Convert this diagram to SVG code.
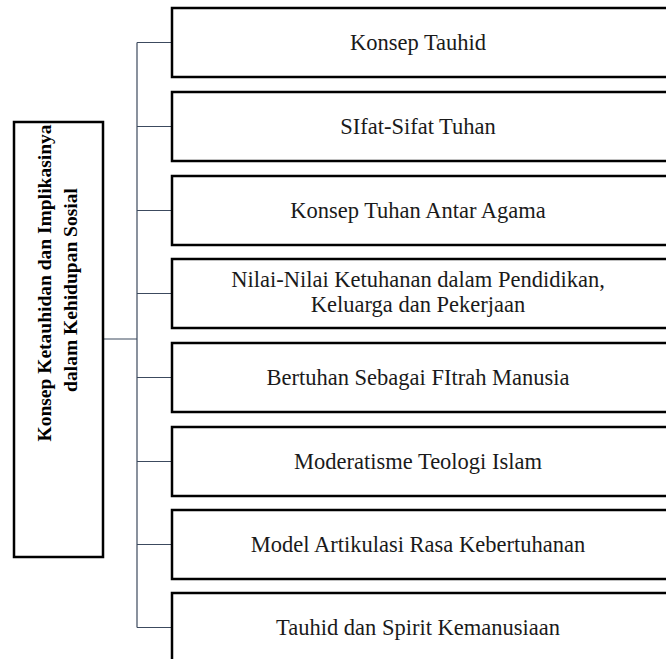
<svg xmlns="http://www.w3.org/2000/svg" width="666" height="659" viewBox="0 0 666 659">
<style>
.box{fill:#fff;stroke:#000;stroke-width:2.5}
.t{font-family:"Liberation Serif",serif;font-size:22.5px;fill:#1a1a1a;text-anchor:middle}
.tb{font-family:"Liberation Serif",serif;font-size:19.5px;font-weight:bold;fill:#000;text-anchor:middle}
.c{fill:none;stroke:#3c4a5e;stroke-width:1.2}
</style>
<rect width="666" height="659" fill="#fff"/>
<g id="connectors">
<path class="c" d="M103 339H137M137 42.5V627.5"/>
<path class="c" d="M137 42.5H172M137 126.5H172M137 210.5H172M137 293.5H172M137 377.5H172M137 461.5H172M137 544.5H172M137 627.5H172"/>
</g>
<g id="root">
<rect class="box" x="14" y="122" width="89" height="435"/>
<text class="tb" transform="translate(51,283) rotate(-90)">Konsep Ketauhidan dan Implikasinya</text>
<text class="tb" transform="translate(77,290) rotate(-90)">dalam Kehidupan Sosial</text>
</g>
<g id="n1"><rect class="box" x="172" y="8" width="500" height="69"/><text class="t" x="418" y="50">Konsep Tauhid</text></g>
<g id="n2"><rect class="box" x="172" y="92" width="500" height="69"/><text class="t" x="418" y="134">SIfat-Sifat Tuhan</text></g>
<g id="n3"><rect class="box" x="172" y="176" width="500" height="69"/><text class="t" x="418" y="218">Konsep Tuhan Antar Agama</text></g>
<g id="n4"><rect class="box" x="172" y="259" width="500" height="69"/><text class="t" x="418" y="287">Nilai-Nilai Ketuhanan dalam Pendidikan,</text><text class="t" x="418" y="312">Keluarga dan Pekerjaan</text></g>
<g id="n5"><rect class="box" x="172" y="343" width="500" height="69"/><text class="t" x="418" y="385">Bertuhan Sebagai FItrah Manusia</text></g>
<g id="n6"><rect class="box" x="172" y="427" width="500" height="69"/><text class="t" x="418" y="469">Moderatisme Teologi Islam</text></g>
<g id="n7"><rect class="box" x="172" y="510" width="500" height="69"/><text class="t" x="418" y="552">Model Artikulasi Rasa Kebertuhanan</text></g>
<g id="n8"><rect class="box" x="172" y="593" width="500" height="69"/><text class="t" x="418" y="635">Tauhid dan Spirit Kemanusiaan</text></g>
</svg>
